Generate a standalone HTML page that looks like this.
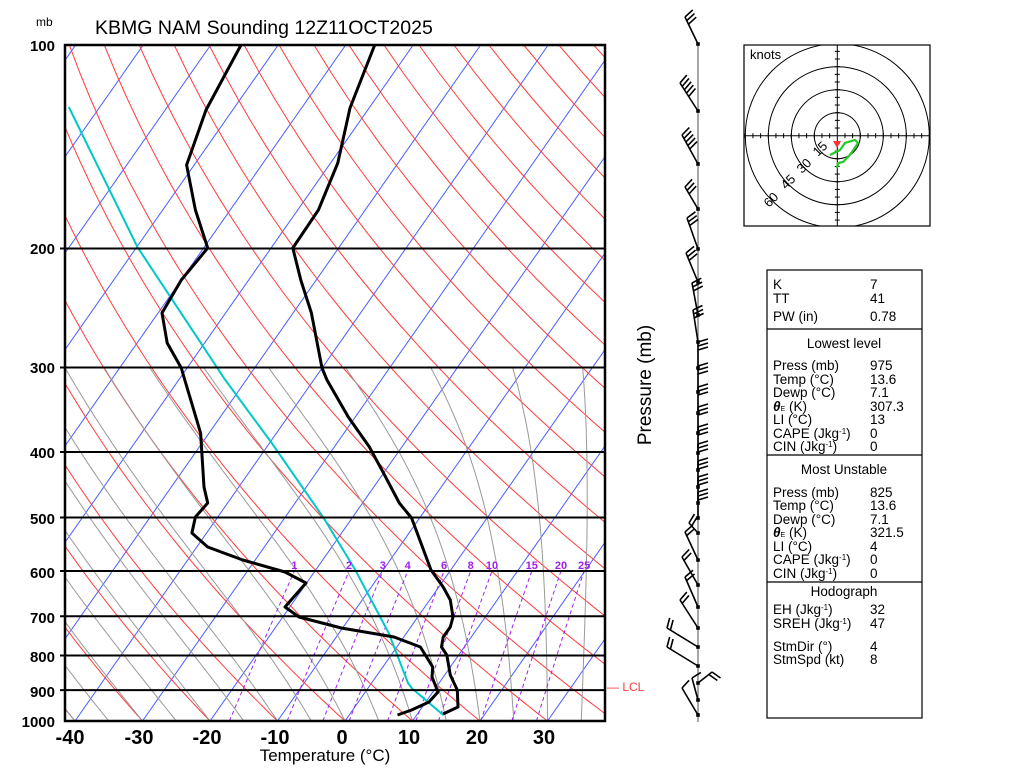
<!DOCTYPE html>
<html><head><meta charset="utf-8">
<style>
html,body{margin:0;padding:0;background:#fff;}
svg{display:block;font-family:"Liberation Sans",Arial,sans-serif;}
</style></head>
<body>
<svg id="s" width="1024" height="768" viewBox="0 0 1024 768" xmlns="http://www.w3.org/2000/svg">
<defs><clipPath id="pc"><rect x="65" y="45" width="540" height="676"/></clipPath>
<clipPath id="hc"><rect x="744" y="45" width="186" height="181"/></clipPath></defs>
<rect width="1024" height="768" fill="#fff"/>
<g id="grid" clip-path="url(#pc)"></g>
<g id="prof" clip-path="url(#pc)"></g>
<g id="iso"></g>
<rect x="65" y="45" width="540" height="676" fill="none" stroke="#000" stroke-width="2.5"/>
<text x="95" y="34" font-size="19.5" fill="#000">KBMG NAM Sounding 12Z11OCT2025</text>
<text x="36" y="26" font-size="12" fill="#000">mb</text>
<g font-size="15" font-weight="bold" text-anchor="end" fill="#000">
<text x="55" y="51">100</text><text x="55" y="254">200</text><text x="55" y="373">300</text>
<text x="55" y="458">400</text><text x="55" y="524">500</text><text x="55" y="578">600</text>
<text x="55" y="623">700</text><text x="55" y="662">800</text><text x="55" y="697">900</text>
<text x="55" y="727">1000</text></g>
<g font-size="20" font-weight="bold" text-anchor="middle" fill="#000">
<text x="70" y="744">-40</text><text x="139" y="744">-30</text><text x="207" y="744">-20</text>
<text x="275" y="744">-10</text><text x="342" y="744">0</text><text x="409" y="744">10</text>
<text x="477" y="744">20</text><text x="544" y="744">30</text></g>
<text x="325" y="761" font-size="17" text-anchor="middle" fill="#000">Temperature (°C)</text>
<text transform="translate(651,385) rotate(-90)" font-size="19" text-anchor="middle" fill="#000">Pressure (mb)</text>
<text x="607" y="691" font-size="12" fill="#ff3b3b">— LCL</text>
<line x1="698" y1="45" x2="698" y2="722" stroke="#888" stroke-width="1.5"/>
<g id="barbs" stroke="#000" stroke-width="1.6" fill="none"></g>
<rect x="744" y="45" width="186" height="181" fill="#fff" stroke="#000" stroke-width="1.2"/>
<g clip-path="url(#hc)" id="hodo" stroke="#000" fill="none" stroke-width="1"></g>
<text x="750" y="59" font-size="13" fill="#000">knots</text>
<g font-size="13" fill="#000">
<text transform="translate(818,157) rotate(-45)">15</text>
<text transform="translate(802,174) rotate(-45)">30</text>
<text transform="translate(786,190) rotate(-45)">45</text>
<text transform="translate(769,208) rotate(-45)">60</text></g>
<polyline points="830,155 840,150 845,143 855,140 858,143 852,152 848,157 843,162 838,163 837,168" fill="none" stroke="#22cc22" stroke-width="2.2"/>
<polygon points="833,141 841,141 837,148" fill="#ff3333"/>
<rect x="767" y="270" width="155" height="448" fill="none" stroke="#000" stroke-width="1.2"/>
<line x1="767" y1="329" x2="922" y2="329" stroke="#000" stroke-width="1.2"/>
<line x1="767" y1="455" x2="922" y2="455" stroke="#000" stroke-width="1.2"/>
<line x1="767" y1="582" x2="922" y2="582" stroke="#000" stroke-width="1.2"/>
<g font-size="13.5" fill="#000">
<text x="773" y="289">K</text><text x="870" y="289">7</text>
<text x="773" y="303">TT</text><text x="870" y="303">41</text>
<text x="773" y="321">PW (in)</text><text x="870" y="321">0.78</text>
<text x="844" y="348" text-anchor="middle">Lowest level</text>
<text x="773" y="370">Press (mb)</text><text x="870" y="370">975</text>
<text x="773" y="384">Temp (°C)</text><text x="870" y="384">13.6</text>
<text x="773" y="397">Dewp (°C)</text><text x="870" y="397">7.1</text>
<text x="773" y="411"><tspan font-style="italic" font-weight="bold">θ</tspan><tspan font-size="7">E</tspan>  (K)</text><text x="870" y="411">307.3</text>
<text x="773" y="424">LI (°C)</text><text x="870" y="424">13</text>
<text x="773" y="438">CAPE (Jkg<tspan font-size="8" dy="-4">-1</tspan><tspan dy="4">)</tspan></text><text x="870" y="438">0</text>
<text x="773" y="451">CIN (Jkg<tspan font-size="8" dy="-4">-1</tspan><tspan dy="4">)</tspan></text><text x="870" y="451">0</text>
<text x="844" y="474" text-anchor="middle">Most Unstable</text>
<text x="773" y="497">Press (mb)</text><text x="870" y="497">825</text>
<text x="773" y="510">Temp (°C)</text><text x="870" y="510">13.6</text>
<text x="773" y="524">Dewp (°C)</text><text x="870" y="524">7.1</text>
<text x="773" y="537"><tspan font-style="italic" font-weight="bold">θ</tspan><tspan font-size="7">E</tspan>  (K)</text><text x="870" y="537">321.5</text>
<text x="773" y="551">LI (°C)</text><text x="870" y="551">4</text>
<text x="773" y="564">CAPE (Jkg<tspan font-size="8" dy="-4">-1</tspan><tspan dy="4">)</tspan></text><text x="870" y="564">0</text>
<text x="773" y="578">CIN (Jkg<tspan font-size="8" dy="-4">-1</tspan><tspan dy="4">)</tspan></text><text x="870" y="578">0</text>
<text x="844" y="596" text-anchor="middle">Hodograph</text>
<text x="773" y="614">EH (Jkg<tspan font-size="8" dy="-4">-1</tspan><tspan dy="4">)</tspan></text><text x="870" y="614">32</text>
<text x="773" y="628">SREH (Jkg<tspan font-size="8" dy="-4">-1</tspan><tspan dy="4">)</tspan></text><text x="870" y="628">47</text>
<text x="773" y="651">StmDir (°)</text><text x="870" y="651">4</text>
<text x="773" y="664">StmSpd (kt)</text><text x="870" y="664">8</text>
</g>
</svg>
<script>
(function(){
var NS="http://www.w3.org/2000/svg";
function el(p,t,a){var e=document.createElementNS(NS,t);for(var k in a)e.setAttribute(k,a[k]);p.appendChild(e);return e;}
function Y(p){return 721-676*Math.log10(1000/p);}
function X(T,y){return 345+6.75*T+0.7*(721-y);}
var g=document.getElementById('grid'),pr=document.getElementById('prof'),iso=document.getElementById('iso');
var p,pts;
for(var T=-160;T<=50;T+=10){el(g,'line',{x1:X(T,721),y1:721,x2:X(T,45),y2:45,stroke:'#4a5cff','stroke-width':1});}
for(var n=-10;n<=30;n++){var th=273.15+10*n;pts=[];for(p=1000;p>=100;p-=10){var t=th*Math.pow(p/1000,0.2857)-273.15;var y=Y(p);pts.push(X(t,y).toFixed(1)+','+y.toFixed(1));}
el(g,'polyline',{points:pts.join(' '),fill:'none',stroke:'#ff3b3b','stroke-width':1});}
function es(tc){return 6.112*Math.exp(17.67*tc/(tc+243.5));}
for(var T0=-40;T0<=40;T0+=5){var t=T0+273.15;pts=[];p=1000;
while(p>=300){var y=Y(p);pts.push(X(t-273.15,y).toFixed(1)+','+y.toFixed(1));
for(var k=0;k<5;k++){var e=es(t-273.15);var rs=0.622*e/(p-e);var d=(1/p)*(287*t+2.5e6*rs)/(1004+(2.5e6*2.5e6*rs*0.622)/(287*t*t));t-=d*1;p-=1;}}
el(g,'polyline',{points:pts.join(' '),fill:'none',stroke:'#999','stroke-width':1});}
var ws=[1,2,3,4,6,8,10,15,20,25];
ws.forEach(function(w){pts=[];var lx=0;for(p=1000;p>=600;p-=10){var e=w*p/(622+w);var l=Math.log(e/6.112);var td=243.5*l/(17.67-l);var y=Y(p);var x=X(td,y);pts.push(x.toFixed(1)+','+y.toFixed(1));lx=x;}
el(g,'polyline',{points:pts.join(' '),fill:'none',stroke:'#a020f0','stroke-width':1,'stroke-dasharray':'4,3'});
var tx=el(iso,'text',{x:lx.toFixed(1),y:569,'font-size':11,'font-weight':'bold',fill:'#a020f0','text-anchor':'middle'});tx.textContent=w;});
[200,300,400,500,600,700,800,900].forEach(function(pp){var y=Y(pp);el(iso,'line',{x1:60,y1:y,x2:605,y2:y,stroke:'#000','stroke-width':2});});
var tp="374.7,45 350,108 337.8,163 318.4,210 292.8,248 300.8,280 311.4,313 322,368 327,380 348.3,417 369.4,447 383.5,473 399.3,503 411.6,518 431,570 443.2,587 450.3,600 453,617 450.3,627 443.2,637 441.5,647 446.8,655 450.3,675 457.3,690 458,707 443,714";
var dp="241,45 206,110 186.6,165 195.4,210 207.7,248 181.3,280 162,313 167.2,343 181.3,368 184.8,380 200.6,433 204,487 207.7,503 195.4,517 191.9,533 207.7,547 242.8,560 285,572 306,583 285,607 299,617 341.3,628 394,637 420.4,647 432.7,667 432,677 438,692 429,702 411.6,710 397.5,715";
var cp="68.8,107 137.4,247 225.3,380 271,442 323.7,518 355.3,570 388.7,633 408,683 411.6,688 443.2,715";
el(pr,'polyline',{points:cp,fill:'none',stroke:'#00c8c8','stroke-width':2});
el(pr,'polyline',{points:tp,fill:'none',stroke:'#000','stroke-width':3,'stroke-linejoin':'round'});
el(pr,'polyline',{points:dp,fill:'none',stroke:'#000','stroke-width':3,'stroke-linejoin':'round'});
var B=document.getElementById('barbs');
function barb(bx,by,tx,ty,n){el(B,'line',{x1:bx,y1:by,x2:tx,y2:ty});
var dx=tx-bx,dy=ty-by,L=Math.sqrt(dx*dx+dy*dy),ux=dx/L,uy=dy/L,ddx=-uy,ddy=ux;
for(var j=0;j<n;j++){var px=tx-ux*4*j,py=ty-uy*4*j;el(B,'line',{x1:px,y1:py,x2:px+10*ddx+3*ux,y2:py+10*ddy+3*uy});}
el(B,'rect',{x:bx-1.8,y:by-1.8,width:3.6,height:3.6,fill:'#000',stroke:'none'});}
barb(698,44,685,17,3);barb(698,111,680,83,5);barb(698,164,682,135,5);barb(698,209,685,187,3);
barb(698,249,687,218,3);barb(698,282,686,253,3);barb(698,315,692,283,3);barb(698,342,693,310,3);
[368,392,413,433,453,470,487,503,518].forEach(function(y){barb(698,y,698,y-26,3);});
barb(698,533,689,523,2);barb(698,560,685,532,2);barb(698,585,682,557,2);barb(698,607,685,577,2);
barb(698,628,680,600,2);barb(698,647,667,628,2);barb(698,666,667,647,2);barb(698,683,712,672,2);
barb(698,700,692,678,1);barb(698,715,682,688,1);
var H=document.getElementById('hodo'),cx=837.3,cy=135.7;
[23,46,69,92].forEach(function(r){el(H,'circle',{cx:cx,cy:cy,r:r});});
el(H,'line',{x1:744,y1:cy,x2:930,y2:cy});el(H,'line',{x1:cx,y1:45,x2:cx,y2:226});
for(var k=-12;k<=12;k++){if(!k)continue;var o=k*7.67;
el(H,'line',{x1:cx+o,y1:cy-2.5,x2:cx+o,y2:cy+2.5});el(H,'line',{x1:cx-2.5,y1:cy+o,x2:cx+2.5,y2:cy+o});}
})();
</script>
</body></html>
